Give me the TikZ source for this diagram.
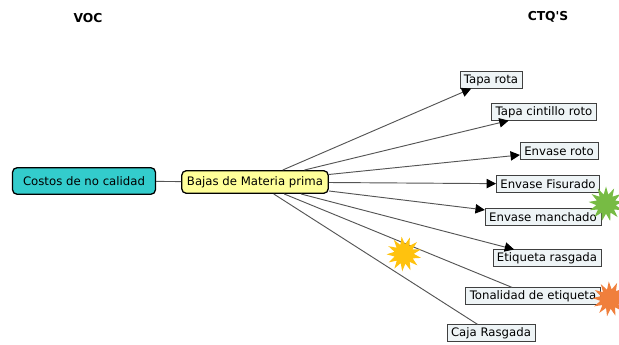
\documentclass[tikz,border=0pt]{standalone}
\usepackage{fontspec}
\setmainfont{DejaVu Sans}
\usepackage{xcolor}
\usepackage{tikz}
\usetikzlibrary{shapes.geometric, arrows.meta}
\definecolor{vocfill}{HTML}{33CCCC}
\definecolor{causefill}{HTML}{FFFF99}
\definecolor{ctqfill}{HTML}{EEF4F6}
\definecolor{linegray}{HTML}{555555}
\definecolor{burstgreen}{HTML}{77BB44}
\definecolor{burstyellow}{HTML}{FFC20E}
\definecolor{burstorange}{HTML}{F07F3C}
\tikzset{
    myarrow/.style={-{Triangle[length=8pt,width=8pt,black]}},
    link/.style={draw=linegray, line width=0.8pt},
    title/.style={font=\bfseries\fontsize{10.5}{12}\selectfont},
    ctqbox/.style={draw=black!75, rectangle, font=\fontsize{10}{11}\selectfont, fill=ctqfill, inner xsep=3.5pt, inner ysep=0pt, minimum height=0.5cm, align=center},
    mainbox/.style={draw, rectangle, rounded corners=4pt, line width=1.1pt, font=\fontsize{10}{11}\selectfont, inner ysep=0pt, align=center},
    burst/.style={star, star points=13, star point ratio=1.8, minimum size=1.05cm, inner sep=0pt, draw=none}
}
\begin{document}
\begin{tikzpicture}[x=0.03cm, y=-0.03cm]
    \useasboundingbox (0,0) rectangle (619,345);
    \node (voc) [title] at (88,18) {VOC};
    \node (ctqs) [title] at (548,17) {CTQ\textquotesingle S};

    \node (costos) [mainbox, fill=vocfill, minimum height=0.8cm, inner xsep=9pt] at (84,181) {Costos de no calidad};
    \node (bajas) [mainbox, fill=causefill, minimum height=0.68cm, inner xsep=4.5pt] at (255,182) {Bajas de Materia prima};

    \node (taparota) [ctqbox] at (491,80) {Tapa rota};
    \node (cintillo) [ctqbox] at (544,112) {Tapa cintillo roto};
    \node (envroto) [ctqbox] at (559,151) {Envase roto};
    \node (fisurado) [ctqbox] at (548,184) {Envase Fisurado};
    \node (manchado) [ctqbox] at (543,217) {Envase manchado};
    \node (rasgada) [ctqbox] at (547,258) {Etiqueta rasgada};
    \node (tonalidad) [ctqbox] at (533,296) {Tonalidad de etiqueta};
    \node (caja) [ctqbox] at (491,333) {Caja Rasgada};

    \draw [link] (costos) -- (bajas);
    \draw [link, myarrow] (bajas) -- (taparota);
    \draw [link, myarrow] (bajas) -- (cintillo);
    \draw [link, myarrow] (bajas) -- (envroto);
    \draw [link, myarrow] (bajas) -- (fisurado);
    \draw [link, myarrow] (bajas) -- (manchado);
    \draw [link, myarrow] (bajas) -- (rasgada);
    \draw [link] (bajas) -- (tonalidad);
    \draw [link] (bajas) -- (caja);

    \node (greenburst) [burst, fill=burstgreen] at (606,204) {};
    \node (yellowburst) [burst, fill=burstyellow, rotate=8] at (404,254) {};
    \node (orangeburst) [burst, fill=burstorange, rotate=4] at (610,299) {};
\end{tikzpicture}
\end{document}
